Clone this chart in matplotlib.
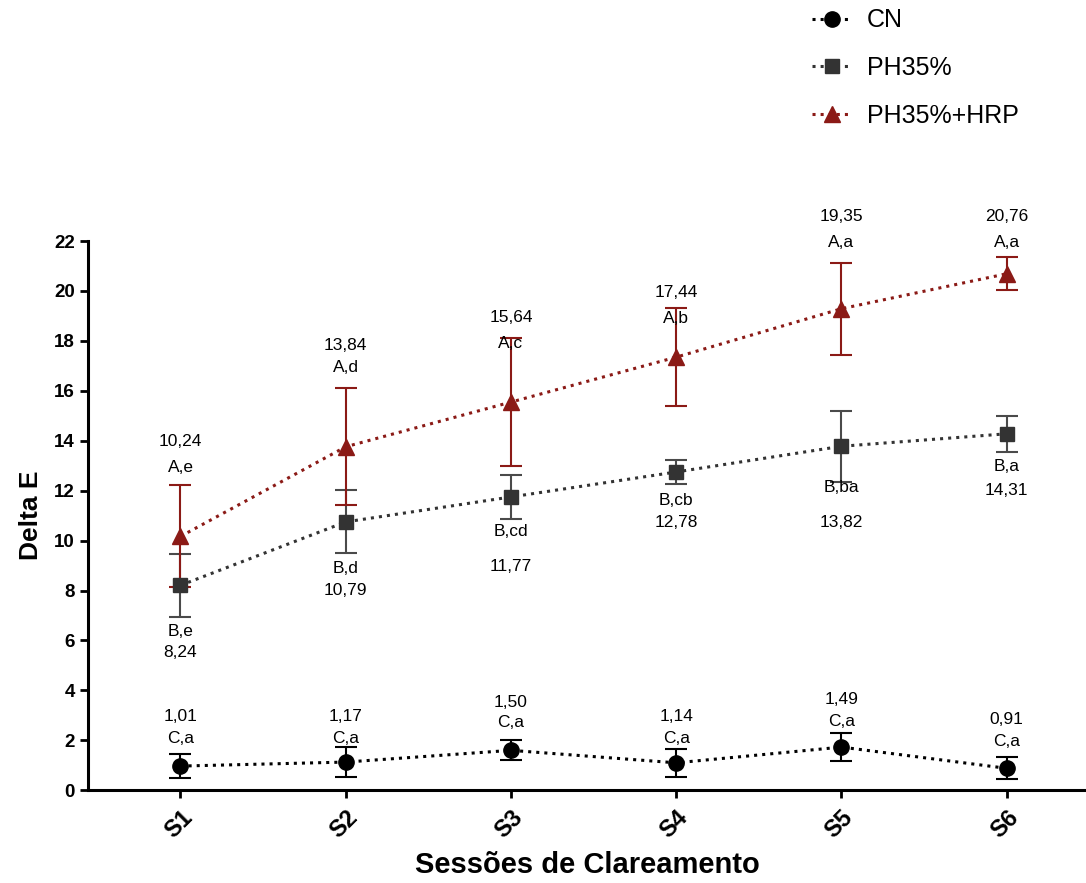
import numpy as np
import matplotlib.pyplot as plt

plt.rcParams['font.family'] = ['Liberation Sans', 'DejaVu Sans']

sessions = ['S1', 'S2', 'S3', 'S4', 'S5', 'S6']

cn_mean = [0.97, 1.13, 1.60, 1.10, 1.73, 0.88]
cn_sd = [0.47, 0.60, 0.40, 0.57, 0.57, 0.44]
ph_mean = [8.21, 10.75, 11.75, 12.75, 13.78, 14.28]
ph_sd = [1.27, 1.26, 0.87, 0.47, 1.43, 0.72]
hrp_mean = [10.17, 13.76, 15.55, 17.35, 19.29, 20.69]
hrp_sd = [2.04, 2.35, 2.55, 1.95, 1.84, 0.67]

cn_vals = ['1,01', '1,17', '1,50', '1,14', '1,49', '0,91']
ph_vals = ['8,24', '10,79', '11,77', '12,78', '13,82', '14,31']
hrp_vals = ['10,24', '13,84', '15,64', '17,44', '19,35', '20,76']
cn_letters = ['C,a'] * 6
ph_letters = ['B,e', 'B,d', 'B,cd', 'B,cb', 'B,ba', 'B,a']
hrp_letters = ['A,e', 'A,d', 'A,c', 'A,b', 'A,a', 'A,a']

# label heights (data units)
cn_val_y = [2.96, 2.96, 3.52, 2.96, 3.64, 2.84]
cn_let_y = [2.08, 2.08, 2.72, 2.08, 2.76, 1.96]
ph_let_y = [6.37, 8.89, 10.37, 11.61, 12.13, 12.98]
ph_val_y = [5.53, 8.01, 8.97, 10.73, 10.73, 12.01]
hrp_val_y = [13.98, 17.82, 18.94, 19.94, 22.99, 22.99]
hrp_let_y = [12.94, 16.94, 17.90, 18.90, 21.95, 21.95]

red = '#8b1a16'
gray = '#333333'

fig = plt.figure(figsize=(10.86, 8.83), dpi=100)
ax = fig.add_axes([0.081, 0.105, 0.919, 0.622])
x = np.arange(len(sessions))

series = [
    ('CN', cn_mean, cn_sd, 'o', 'black', 'black', 11),
    ('PH35%', ph_mean, ph_sd, 's', gray, '#4a4a4a', 10.5),
    ('PH35%+HRP', hrp_mean, hrp_sd, '^', red, red, 12),
]
handles = []
for name, m, sd, mk, col, ecol, ms in series:
    ax.errorbar(x, m, yerr=sd, fmt='none', ecolor=ecol, elinewidth=1.5,
                capsize=8, capthick=1.5, zorder=2)
    h, = ax.plot(x, m, linestyle=':', color=col, linewidth=2.2, marker=mk,
                 markersize=ms, markerfacecolor=col, markeredgecolor=col,
                 label=name, zorder=3)
    handles.append(h)

fs = 12.5
for i in x:
    ax.text(i, cn_val_y[i], cn_vals[i], ha='center', va='center', fontsize=fs)
    ax.text(i, cn_let_y[i], cn_letters[i], ha='center', va='center', fontsize=fs)
    ax.text(i, ph_val_y[i], ph_vals[i], ha='center', va='center', fontsize=fs)
    ax.text(i, ph_let_y[i], ph_letters[i], ha='center', va='center', fontsize=fs)
    ax.text(i, hrp_val_y[i], hrp_vals[i], ha='center', va='center', fontsize=fs)
    ax.text(i, hrp_let_y[i], hrp_letters[i], ha='center', va='center', fontsize=fs)

ax.set_xlim(-0.56, 5.48)
ax.set_ylim(0, 22)
ax.set_yticks(np.arange(0, 23, 2))
ax.set_xticks(x)
ax.set_xticklabels(sessions, rotation=45, ha='right', rotation_mode='anchor',
                   fontsize=17, fontweight='bold')
for lab in ax.get_yticklabels():
    lab.set_fontweight('bold')
    lab.set_fontsize(13.5)
ax.spines['top'].set_visible(False)
ax.spines['right'].set_visible(False)
ax.spines['left'].set_linewidth(2.2)
ax.spines['bottom'].set_linewidth(2.2)
ax.tick_params(axis='both', width=2, length=6, direction='out')
ax.tick_params(axis='x', pad=5)
ax.set_ylabel('Delta E', fontsize=19, fontweight='bold', labelpad=8)
ax.set_xlabel('Sessões de Clareamento', fontsize=21, fontweight='bold', labelpad=6)

fig.legend(handles=handles, loc='upper left', bbox_to_anchor=(0.727, 1.016),
           frameon=False, fontsize=18, handlelength=1.6, labelspacing=0.95,
           handletextpad=0.6)

fig.savefig('out.png', dpi=100)
